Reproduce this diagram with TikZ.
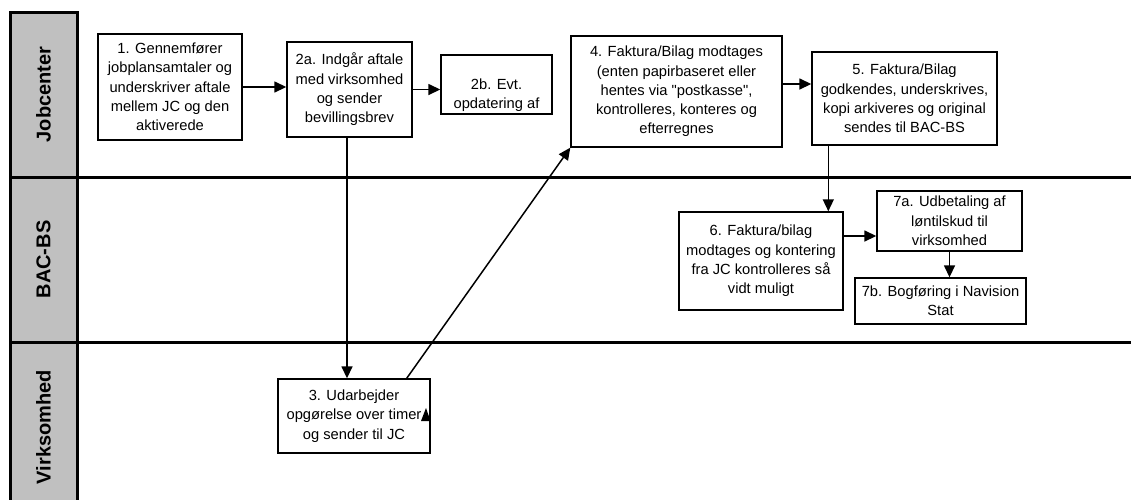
\documentclass[tikz,border=0pt]{standalone}
\usepackage{fontspec}
\setmainfont{Liberation Sans}
\usetikzlibrary{arrows.meta,calc}
\definecolor{lanegray}{HTML}{C0C0C0}
\tikzset{
  box/.style={draw=black, line width=1.4pt, fill=white, rectangle, inner sep=0pt, align=center,
    font=\fontsize{14.7}{19.3}\selectfont},
  arr/.style={line width=1.5pt, -{Triangle[length=12pt,width=11pt]}},
  lanelabel/.style={rotate=90, font=\fontsize{20}{22}\selectfont\bfseries, inner sep=0pt},
  laneline/.style={line width=3pt},
}
\begin{document}
\begin{tikzpicture}[x=1pt,y=-1pt]
\useasboundingbox (0,0) rectangle (1131,499);
\clip (0,0) rectangle (1131,499);
% lane headers
\fill[lanegray] (10,12) rectangle (77,520);
\draw[laneline] (10,520) -- (10,12) -- (77,12) -- (77,520);
\draw[laneline] (10,177) -- (1131,177);
\draw[laneline] (10,342) -- (1131,342);
\node[lanelabel] (ljc) at (43.5,94.5) {Jobcenter};
\node[lanelabel] (lbac) at (43.5,259.5) {BAC-BS};
\node[lanelabel] (lvirk) at (43.5,427) {Virksomhed};
% boxes
\node[box, minimum width=144pt, minimum height=106pt] (b1) at (170,87)
  {1. Gennemfører\\jobplansamtaler og\\underskriver aftale\\mellem JC og den\\aktiverede};
\node[box, minimum width=125pt, minimum height=95pt] (b2a) at (349.5,89.5)
  {2a. Indgår aftale\\med virksomhed\\og sender\\bevillingsbrev};
\node[box, minimum width=111pt, minimum height=59pt] (b2b) at (496.5,84.5) {};
\node[inner sep=0pt, align=center, font=\fontsize{14.7}{19.3}\selectfont] (t2b) at (496.5,95)
  {2b. Evt.\\opdatering af};
\node[box, minimum width=211pt, minimum height=111pt] (b4) at (676.5,91.5)
  {4. Faktura/Bilag modtages\\(enten papirbaseret eller\\hentes via \textquotedbl postkasse\textquotedbl,\\kontrolleres, konteres og\\efterregnes};
\node[box, minimum width=185pt, minimum height=93pt] (b5) at (904.5,98.5)
  {5. Faktura/Bilag\\godkendes, underskrives,\\kopi arkiveres og original\\sendes til BAC-BS};
\node[box, minimum width=164pt, minimum height=98pt] (b6) at (761,261)
  {6. Faktura/bilag\\modtages og kontering\\fra JC kontrolleres så\\vidt muligt};
\node[box, minimum width=145pt, minimum height=60pt] (b7a) at (949.5,221)
  {7a. Udbetaling af\\løntilskud til\\virksomhed};
\node[box, minimum width=171pt, minimum height=46pt] (b7b) at (940.5,301)
  {7b. Bogføring i Navision\\Stat};
\node[box, minimum width=152pt, minimum height=74pt] (b3) at (354,416)
  {3. Udarbejder\\opgørelse over timer\\og sender til JC};
% small stray arrowhead inside box 3
\fill (421,421) -- (426,408) -- (430.5,421) -- cycle;
% connectors
\draw[arr] (b1.east) -- (b1.east -| b2a.west);
\draw[arr] (b2a.east) -- (b2a.east -| b2b.west);
\draw[arr] ($(b4.east)+(0,-7.5)$) coordinate (c4) -- (c4 -| b5.west);
\draw[arr] ($(b5.south west)+(17,0)$) coordinate (c5) -- (c5 |- b6.north);
\draw[arr] ($(b2a.south)+(-2.5,0)$) coordinate (c2) -- (c2 |- b3.north);
\draw[arr] ($(b3.north east)+(-24,0)$) coordinate (c3) -- (b4.south west);
\draw[arr] ($(b6.east)+(0,-25)$) coordinate (c6) -- (c6 -| b7a.west);
\draw[arr] (b7a.south) -- (b7a.south |- b7b.north);
\end{tikzpicture}
\end{document}
